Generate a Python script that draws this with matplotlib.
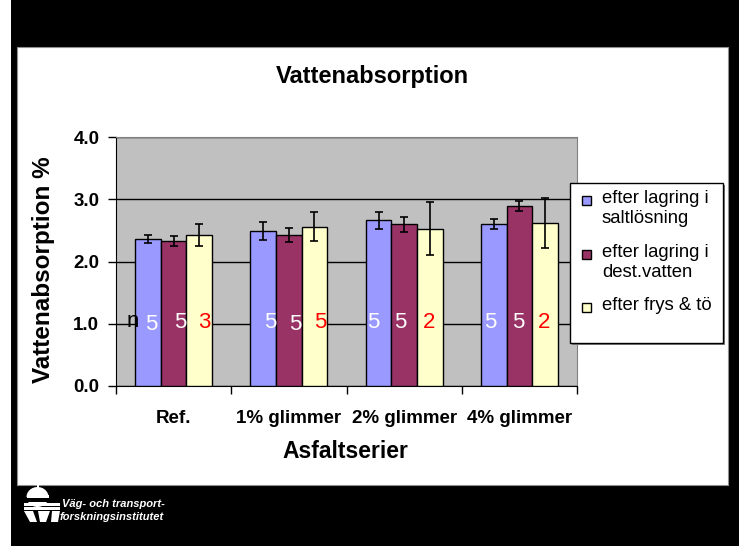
import matplotlib
matplotlib.use("Agg")
import matplotlib.pyplot as plt
import numpy as np
from matplotlib.patches import Rectangle, Polygon, Ellipse

categories = ["Ref.", "1% glimmer", "2% glimmer", "4% glimmer"]
series_names = ["efter lagring i\nsaltlösning", "efter lagring i\ndest.vatten", "efter frys & tö"]
salt = [2.36, 2.49, 2.66, 2.60]
salt_err = [0.07, 0.15, 0.14, 0.08]
dest = [2.33, 2.43, 2.60, 2.89]
dest_err = [0.08, 0.11, 0.12, 0.08]
frys = [2.43, 2.56, 2.53, 2.62]
frys_err = [0.18, 0.23, 0.43, 0.40]
n_salt = ["5", "5", "5", "5"]
n_dest = ["5", "5", "5", "5"]
n_frys = ["3", "5", "2", "2"]
yticks = [0.0, 1.0, 2.0, 3.0, 4.0]

W, H = 739, 546
fig = plt.figure(figsize=(W / 100, H / 100), dpi=100, facecolor="black")
plt.rcParams["font.family"] = ["Liberation Sans", "DejaVu Sans"]

# background frame / logo axes in pixel coordinates
bg = fig.add_axes([0, 0, 1, 1], zorder=-5)
bg.set_xlim(0, W)
bg.set_ylim(H, 0)
bg.axis("off")
bg.add_patch(Rectangle((0, 0), 11, H, facecolor="white", edgecolor="none"))
bg.add_patch(Rectangle((17, 47), 711, 438, facecolor="white", edgecolor="#909090", lw=0.8))

# simple logo approximation
bg.add_patch(Ellipse((37.5, 497), 22, 20, facecolor="white", edgecolor="none"))
bg.add_patch(Rectangle((25, 497), 26, 5, facecolor="black", edgecolor="none"))
bg.add_patch(Rectangle((27, 495), 22, 3, facecolor="white", edgecolor="none"))
bg.add_patch(Rectangle((36.5, 480), 2, 8, facecolor="white", edgecolor="none"))
bg.add_patch(Rectangle((34, 482.5), 7, 2, facecolor="white", edgecolor="none"))
bg.add_patch(Rectangle((24, 503), 36, 2.5, facecolor="white", edgecolor="none"))
bg.add_patch(Rectangle((24, 507), 36, 2.5, facecolor="white", edgecolor="none"))
bg.add_patch(Polygon([(24, 511), (33, 511), (37, 522), (30, 522)], facecolor="white", edgecolor="none"))
bg.add_patch(Polygon([(38, 511), (50, 511), (46, 522), (40, 522)], facecolor="white", edgecolor="none"))
bg.add_patch(Polygon([(52, 511), (60, 511), (58, 522), (51, 522)], facecolor="white", edgecolor="none"))
bg.text(62, 504, "Väg- och transport-", color="white", fontsize=8, fontweight="bold",
        fontstyle="italic", ha="left", va="center")
bg.text(60, 517, "forskningsinstitutet", color="white", fontsize=8, fontweight="bold",
        fontstyle="italic", ha="left", va="center")

# main chart
left, right, top, bottom = 116, 577, 137, 386
ax = fig.add_axes([left / W, 1 - bottom / H, (right - left) / W, (bottom - top) / H])
ax.set_facecolor("#C0C0C0")

x = np.arange(len(categories))
w = 0.222
colors = ["#9999FF", "#993366", "#FFFFCC"]
vals = [salt, dest, frys]
errs = [salt_err, dest_err, frys_err]
for k in range(3):
    ax.bar(x + (k - 1) * w, vals[k], w, yerr=errs[k], color=colors[k], edgecolor="black",
           linewidth=1.0, zorder=3, label=series_names[k],
           error_kw=dict(ecolor="black", elinewidth=1.2, capsize=2.9, capthick=1.2, zorder=4))

ax.set_xlim(-0.5, 3.5)
ax.set_ylim(0, 4)
ax.set_yticks(yticks)
ax.set_yticklabels([f"{v:.1f}" for v in yticks], fontsize=13.5, fontweight="bold")
ax.yaxis.grid(True, color="black", linewidth=1.0)
ax.set_axisbelow(True)
ax.set_xticks(x)
ax.set_xticklabels(categories, fontsize=13.5, fontweight="bold")
ax.set_xticks(np.arange(-0.5, 4.0, 1.0), minor=True)
ax.tick_params(axis="x", which="major", length=0, pad=17.5)
ax.tick_params(axis="x", which="minor", length=6, width=1, color="black")
ax.tick_params(axis="y", length=6, width=1, pad=6)
ax.spines["left"].set_color("black")
ax.spines["bottom"].set_color("black")
ax.spines["top"].set_color("#808080")
ax.spines["right"].set_color("#808080")

# n labels
ax.annotate("n", xy=(x[0] - w, 0.95), xytext=(-15, 0), textcoords="offset pixels",
            ha="center", va="baseline", fontsize=16, color="black")
dx_salt = [3.7, 6.7, -5.5, -3.5]
dx_dest = [7, 6, -3.5, -1.5]
dx_frys = [5.5, 6, -0.7, -1]
dy_salt = [-1.5, 0, 0, 0]
dy_dest = [0, -2, 0, 0]
labels = [n_salt, n_dest, n_frys]
dxs = [dx_salt, dx_dest, dx_frys]
tcol = ["white", "white", "#FF0000"]
for k in range(3):
    for i in range(len(categories)):
        dy = dy_salt[i] if k == 0 else (dy_dest[i] if k == 1 else 0)
        ax.annotate(labels[k][i], xy=(x[i] + (k - 1) * w, 0.93), xytext=(dxs[k][i], dy),
                    textcoords="offset pixels", ha="center", va="baseline",
                    fontsize=16, color=tcol[k], zorder=5)

# legend (drawn in pixel coordinates so markers align with the first label line)
lg = fig.add_axes([0, 0, 1, 1], zorder=10)
lg.set_xlim(0, W)
lg.set_ylim(H, 0)
lg.axis("off")
lg.add_patch(Rectangle((572, 185), 153, 160, facecolor="#808080", edgecolor="none"))
lg.add_patch(Rectangle((570, 183), 153, 160, facecolor="white", edgecolor="black", lw=1.0))
entry_top = [196, 250, 303]
for k in range(3):
    lg.add_patch(Rectangle((581.5, entry_top[k]), 9, 9, facecolor=colors[k],
                           edgecolor="black", lw=1.0))
    lg.text(602, entry_top[k] - 6, series_names[k], ha="left", va="top", fontsize=13.3,
            linespacing=1.22, color="black")

# titles
fig.text(372.5 / W, 1 - 77 / H, "Vattenabsorption", ha="center", va="center",
         fontsize=17, fontweight="bold")
fig.text(43.5 / W, 1 - 270 / H, "Vattenabsorption %", ha="center", va="center",
         rotation=90, fontsize=17.5, fontweight="bold")
fig.text(345.5 / W, 1 - 452 / H, "Asfaltserier", ha="center", va="center",
         fontsize=16.5, fontweight="bold")

fig.savefig("out.png", dpi=100, facecolor="black")
